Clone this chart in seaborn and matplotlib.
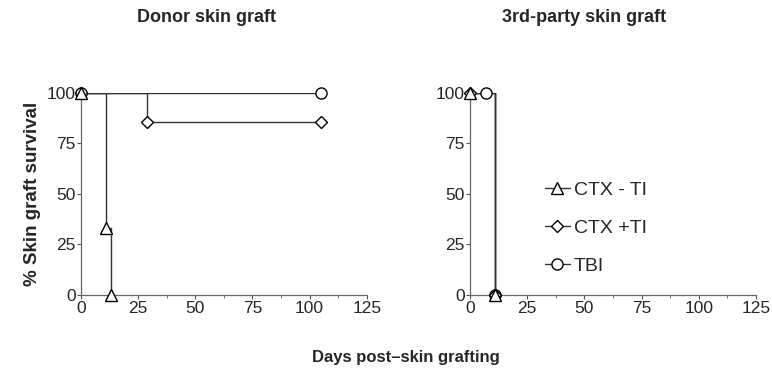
import numpy as np
import pandas as pd
import matplotlib
matplotlib.use("Agg")
import matplotlib.pyplot as plt
import seaborn as sns
from matplotlib.ticker import MultipleLocator
from matplotlib.lines import Line2D

sns.set_style("ticks")
plt.rcParams["font.family"] = ["Liberation Sans", "DejaVu Sans"]

# Donor skin graft: step curves (day, % survival)
donor_ctx_minus_days = [0, 11, 13]
donor_ctx_minus_surv = [100, 33.3, 0]
donor_ctx_plus_days = [0, 29, 105]
donor_ctx_plus_surv = [100, 85.7, 85.7]
donor_tbi_days = [0, 105]
donor_tbi_surv = [100, 100]

# 3rd-party skin graft
third_ctx_minus_days = [0, 11]
third_ctx_minus_surv = [100, 0]
third_ctx_plus_days = [0, 11]
third_ctx_plus_surv = [100, 0]
third_tbi_days = [0, 7, 11]
third_tbi_surv = [100, 100, 0]

groups = ["CTX - TI", "CTX +TI", "TBI"]
markers = {"CTX - TI": "^", "CTX +TI": "D", "TBI": "o"}
msizes = {"CTX - TI": 8, "CTX +TI": 6, "TBI": 8}

fig = plt.figure(figsize=(7.72, 3.72), dpi=100)
ax1 = fig.add_axes([0.105, 0.207, 0.370, 0.543])
ax2 = fig.add_axes([0.609, 0.207, 0.370, 0.543])

def draw(ax, curves):
    for name, (days, surv, mark_days, mark_surv) in curves.items():
        df = pd.DataFrame({"day": days, "surv": surv})
        sns.lineplot(data=df, x="day", y="surv", ax=ax, color="#333333",
                     linewidth=1.0, drawstyle="steps-post", estimator=None,
                     sort=False)
        mk = pd.DataFrame({"day": mark_days, "surv": mark_surv})
        ax.plot(mk["day"], mk["surv"], linestyle="none", marker=markers[name],
                markersize=msizes[name], markerfacecolor="white",
                markeredgecolor="black", markeredgewidth=1.0, clip_on=False,
                zorder=5)

draw(ax1, {
    "CTX +TI": (donor_ctx_plus_days, donor_ctx_plus_surv,
                donor_ctx_plus_days, donor_ctx_plus_surv),
    "TBI": (donor_tbi_days, donor_tbi_surv, donor_tbi_days, donor_tbi_surv),
    "CTX - TI": (donor_ctx_minus_days, donor_ctx_minus_surv,
                 donor_ctx_minus_days, donor_ctx_minus_surv),
})
draw(ax2, {
    "TBI": (third_tbi_days, third_tbi_surv, [7, 11], [100, 0]),
    "CTX +TI": (third_ctx_plus_days, third_ctx_plus_surv,
                third_ctx_plus_days, third_ctx_plus_surv),
    "CTX - TI": (third_ctx_minus_days, third_ctx_minus_surv,
                 third_ctx_minus_days, third_ctx_minus_surv),
})

for ax in (ax1, ax2):
    ax.set_xlim(0, 125)
    ax.set_ylim(0, 100)
    ax.xaxis.set_major_locator(MultipleLocator(25))
    ax.xaxis.set_minor_locator(MultipleLocator(12.5))
    ax.yaxis.set_major_locator(MultipleLocator(25))
    ax.tick_params(axis="both", which="major", labelsize=12.5, length=3,
                   width=0.8, color="#555555", pad=1)
    ax.tick_params(axis="x", which="minor", length=2, color="#555555")
    sns.despine(ax=ax)
    for sp in ("left", "bottom"):
        ax.spines[sp].set_color("#666666")
        ax.spines[sp].set_linewidth(0.9)
    ax.set_xlabel("")
    ax.set_ylabel("")

ax1.set_ylabel("% Skin graft survival", fontsize=13.5, fontweight="bold", labelpad=4)

handles = [Line2D([], [], color="#333333", linewidth=1.0, marker=markers[g],
                  markersize=msizes[g], markerfacecolor="white",
                  markeredgecolor="black") for g in groups]
ax2.legend(handles, groups, loc="center left", bbox_to_anchor=(0.2, 0.33),
           frameon=False, fontsize=14, handlelength=1.3, handletextpad=0.2,
           labelspacing=1.05)

fig.text(0.267, 0.954, "Donor skin graft", ha="center", va="center",
         fontsize=13, fontweight="bold")
fig.text(0.757, 0.954, "3rd-party skin graft", ha="center", va="center",
         fontsize=13, fontweight="bold")
fig.text(0.526, 0.038, "Days post\u2013skin grafting", ha="center", va="center",
         fontsize=12, fontweight="bold")

fig.savefig("out.png", dpi=100)
